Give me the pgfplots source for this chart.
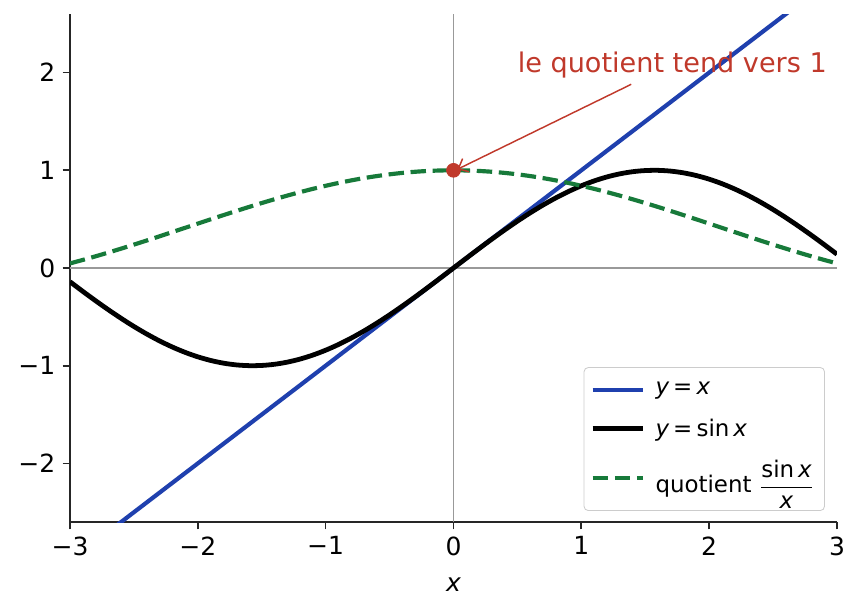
\documentclass[border=0pt]{standalone}
\usepackage{pgfplots}
\usepackage{pgfplotstable}
\pgfplotsset{compat=1.18}
\usetikzlibrary{arrows.meta}
\usepackage{fontspec}
\setmainfont{DejaVu Sans}

\definecolor{cblue}{HTML}{1F40AE}
\definecolor{cgreen}{HTML}{177A3A}
\definecolor{cred}{HTML}{C0392B}
\definecolor{cgray}{HTML}{999999}

% x, sin x, sin x / x
\pgfplotstableread{
x s q
-3.0 -0.14112 0.04704
-2.9 -0.23925 0.08250
-2.8 -0.33499 0.11964
-2.7 -0.42738 0.15829
-2.6 -0.51550 0.19827
-2.5 -0.59847 0.23939
-2.4 -0.67546 0.28144
-2.3 -0.74571 0.32422
-2.2 -0.80850 0.36750
-2.1 -0.86321 0.41105
-2.0 -0.90930 0.45465
-1.9 -0.94630 0.49805
-1.8 -0.97385 0.54103
-1.7 -0.99166 0.58333
-1.6 -0.99957 0.62473
-1.5 -0.99749 0.66500
-1.4 -0.98545 0.70389
-1.3 -0.96356 0.74120
-1.2 -0.93204 0.77670
-1.1 -0.89121 0.81019
-1.0 -0.84147 0.84147
-0.9 -0.78333 0.87037
-0.8 -0.71736 0.89670
-0.7 -0.64422 0.92031
-0.6 -0.56464 0.94107
-0.5 -0.47943 0.95885
-0.4 -0.38942 0.97355
-0.3 -0.29552 0.98507
-0.2 -0.19867 0.99335
-0.1 -0.09983 0.99833
0.0 0.00000 1.00000
0.1 0.09983 0.99833
0.2 0.19867 0.99335
0.3 0.29552 0.98507
0.4 0.38942 0.97355
0.5 0.47943 0.95885
0.6 0.56464 0.94107
0.7 0.64422 0.92031
0.8 0.71736 0.89670
0.9 0.78333 0.87037
1.0 0.84147 0.84147
1.1 0.89121 0.81019
1.2 0.93204 0.77670
1.3 0.96356 0.74120
1.4 0.98545 0.70389
1.5 0.99749 0.66500
1.6 0.99957 0.62473
1.7 0.99166 0.58333
1.8 0.97385 0.54103
1.9 0.94630 0.49805
2.0 0.90930 0.45465
2.1 0.86321 0.41105
2.2 0.80850 0.36750
2.3 0.74571 0.32422
2.4 0.67546 0.28144
2.5 0.59847 0.23939
2.6 0.51550 0.19827
2.7 0.42738 0.15829
2.8 0.33499 0.11964
2.9 0.23925 0.08250
3.0 0.14112 0.04704
}\sindata

\newcommand{\eqsp}{\hspace{2pt}=\hspace{2pt}}

\begin{document}
\begin{tikzpicture}
\useasboundingbox (0,0) rectangle (412.8pt,295.2pt);
\begin{axis}[
    at={(33.6pt,44.64pt)}, anchor=south west,
    scale only axis, width=368.16pt, height=243.84pt,
    xmin=-3, xmax=3, ymin=-2.6, ymax=2.6,
    axis x line*=bottom, axis y line*=left,
    axis line style={-, line width=0.8pt, black!85},
    xtick={-3,-2,-1,0,1,2,3},
    xticklabels={−3,−2,−1,0,1,2,3},
    ytick={-2,-1,0,1,2},
    yticklabels={−2,−1,0,1,2},
    tick align=outside,
    major tick length=3.5pt,
    tick style={line width=0.8pt, black!85},
    ticklabel style={font=\fontsize{12}{14}\selectfont},
    xlabel={\itshape x},
    xlabel style={font=\fontsize{12}{14}\selectfont, yshift=-4pt},
    legend cell align=left,
    legend style={at={(1,0)}, anchor=south east, xshift=-5.8pt, yshift=5.3pt,
        draw=black!20, rounded corners=2pt, fill=white, fill opacity=0.8,
        text opacity=1, font=\fontsize{11}{13}\selectfont,
        row sep=6pt, inner xsep=3pt, inner ysep=5pt},
    legend image code/.code={\draw[#1] (0pt,0pt) -- (24pt,0pt); \path (27pt,0pt);},
    clip=true,
]
\draw[cgray, line width=0.8pt] (axis cs:-3,0) -- (axis cs:3,0);
\draw[cgray, line width=0.8pt] (axis cs:0,-2.6) -- (axis cs:0,2.6);

\addplot[cblue, line width=2pt, no marks] coordinates {(-3,-3) (3,3)};
\addlegendentry{{\itshape y}\eqsp{\itshape x}}

\addplot[black, line width=2.3pt, no marks, smooth] table[x=x, y=s] {\sindata};
\addlegendentry{{\itshape y}\eqsp sin\,{\itshape x}}

\addplot[cgreen, line width=2pt, no marks, smooth, dash pattern=on 7.4pt off 3.2pt] table[x=x, y=q] {\sindata};
\addlegendentry{quotient $\displaystyle\frac{\mbox{sin\,\itshape x}}{\mbox{\itshape x}}$}

\addplot[cred, only marks, mark=*, mark size=3.3pt, forget plot] coordinates {(0,1)};

\node[cred, anchor=base west, inner sep=0pt, font=\fontsize{13}{15}\selectfont] at (axis cs:0.5,2.0) {le quotient tend vers 1};
\draw[cred, line width=0.7pt, -{Straight Barb[length=4pt, width=7pt]}] (axis cs:1.39,1.88) -- (axis cs:0.03,1.01);
\end{axis}
\end{tikzpicture}
\end{document}
